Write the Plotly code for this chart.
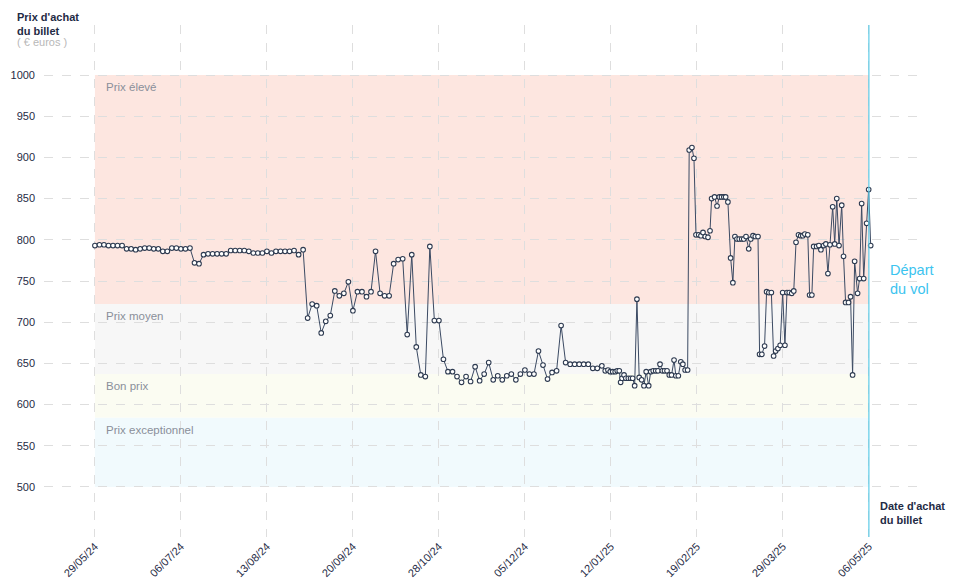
import plotly.graph_objects as go
import pandas as pd

debut = pd.Timestamp("2024-05-29")
depart = pd.Timestamp("2025-05-06")

# jours écoulés depuis le 29/05/24 pour chaque relevé de prix
jours = [
    0, 2, 4, 6, 8, 10, 12, 14, 16, 18, 20, 22, 24, 26, 28, 30, 32, 34, 36, 38,
    40, 42, 44, 46, 48, 50, 52, 54, 56, 58, 60, 62, 64, 66, 68, 70, 72, 74, 76, 78,
    80, 82, 84, 86, 88, 90, 92, 94, 96, 98, 100, 102, 104, 106, 108, 110, 112, 114,
    116, 118, 120, 122, 124, 126, 128, 130, 132, 134, 136, 138, 140, 142, 144, 146,
    148, 150, 152, 154, 156, 158, 160, 162, 164, 166, 168, 170, 172, 174, 176, 178,
    180, 182, 184, 186, 188, 190, 192, 194, 196, 198, 200, 202, 204, 206, 208, 210,
    212, 214, 216, 218, 220, 222, 224,
    225.5, 226.7, 227.7, 228.8, 229.9, 230.8, 231.7, 232.3, 232.9, 233.8,
    234.6, 235.7, 236.7, 237.6, 238.5, 239.5, 240.5, 241.6, 242.6, 243.6,
    244.7, 245.6, 246.7, 247.8, 248.8, 249.7, 250.7, 251.7, 252.8, 253.8,
    254.8, 255.9, 256.7, 257.8, 258.9, 259.8, 260.8, 261.9, 262.6, 263.8,
    264.7, 265.6, 266.8, 267.8, 268.7, 269.7, 270.9, 271.8, 272.5, 273.8,
    274.9, 275.9, 276.9, 277.9, 278.7, 279.7, 280.9, 281.9, 282.8, 283.7,
    284.7, 285.8, 286.7, 287.7, 288.9, 289.8, 290.8, 291.8, 293.0, 293.7,
    294.7, 295.9, 296.8, 297.8, 298.9, 299.9, 300.8, 301.8, 302.8, 303.9,
    304.9, 305.8, 306.8, 307.9, 308.8, 309.8, 310.9, 311.9, 312.8, 313.7,
    315.0, 315.8, 316.8, 317.6, 318.9, 319.9, 320.8, 322.0, 323.0, 323.9,
    324.8, 326.0, 326.9, 327.8, 328.8, 330.0, 330.8, 331.7, 333.0, 333.9,
    334.8, 335.7, 337.0, 337.9, 338.8, 339.7, 341.0, 341.9, 342.8,
]

prix = [
    793, 794, 794, 793, 793, 793, 793, 789, 789, 788, 789, 790, 790, 789, 789, 786,
    786, 790, 790, 789, 789, 790, 772, 771, 782, 783, 783, 783, 783, 783, 787, 787,
    787, 787, 786, 784, 784, 784, 786, 784, 786, 786, 786, 786, 787, 782, 788,
    705, 722, 720, 687, 701, 708, 738, 732, 735, 749, 714, 737, 737, 731, 737, 786,
    735, 732, 732, 771, 776, 777, 685, 782, 670, 636, 634, 792, 702, 702, 655, 640,
    640, 634, 627, 634, 628, 646, 629, 637, 651,
    630, 635, 630, 635, 637, 630, 637, 642, 637, 637, 665, 648, 631, 639, 641, 696,
    651, 649, 649, 649, 649, 649, 644, 644, 647,
    641, 642, 640, 640, 640, 641, 641, 627, 632, 636,
    632, 632, 632, 632, 623, 728, 633, 630, 623, 640,
    623, 640, 641, 641, 641, 649, 641, 641, 641, 636,
    636, 654, 635, 635, 652, 649, 642, 642, 909, 912,
    899, 806, 806, 805, 809, 804, 803, 811, 850, 852,
    841, 852, 852, 852, 852, 846, 778, 748, 804, 801,
    801, 801, 801, 804, 789, 801, 805, 804, 804, 661,
    661, 671, 737, 736, 736, 659, 665, 668, 672, 736,
    672, 736, 736, 735, 738, 797, 806, 805, 805, 807,
    806, 733, 733, 792, 792, 793, 788, 793, 795, 759,
    794, 840, 795, 850, 793, 842, 780, 724, 724, 731,
    636, 774, 735, 753, 844, 753, 820, 861, 793,
]

# zones de prix
zones = ["Prix élevé", "Prix moyen", "Bon prix", "Prix exceptionnel"]
zones_haut = [1000, 722, 637, 584]
zones_bas = [722, 637, 584, 500]
couleurs_zones = ["#fde6e0", "#f7f7f7", "#fbfcf2", "#f1fafd"]

dates_ticks = ["2024-05-29", "2024-07-06", "2024-08-13", "2024-09-20", "2024-10-28",
               "2024-12-05", "2025-01-12", "2025-02-19", "2025-03-29", "2025-05-06"]
prix_ticks = [500, 550, 600, 650, 700, 750, 800, 850, 900, 950, 1000]

dates = debut + pd.to_timedelta(jours, unit="D")

NAVY = "#1f2b45"
fig = go.Figure()

fig.add_trace(go.Scatter(
    x=dates, y=prix, mode="lines+markers",
    line=dict(color="#3b4a63", width=1),
    marker=dict(size=4.6, color="white", line=dict(color="#2d3a50", width=1.1)),
    hoverinfo="x+y", showlegend=False,
))

for nom, haut, bas, coul in zip(zones, zones_haut, zones_bas, couleurs_zones):
    fig.add_shape(type="rect", xref="x", yref="y", x0=debut, x1=depart,
                  y0=bas, y1=haut, fillcolor=coul, line_width=0, layer="below")
    fig.add_annotation(x=debut, y=haut, xref="x", yref="y", text=nom,
                       showarrow=False, xanchor="left", yanchor="top",
                       xshift=9, yshift=-4,
                       font=dict(size=11.5, color="#8a8f9a"))

# ligne du départ
fig.add_shape(type="line", xref="x", yref="paper", x0=depart, x1=depart,
              y0=0, y1=1, line=dict(color="#5ccbe8", width=1.2))

fig.add_annotation(x=-0.033, y=1.031, xref="paper", yref="paper",
                   text="<b>Prix d'achat<br>du billet</b>", showarrow=False,
                   xanchor="left", yanchor="top", align="left",
                   font=dict(size=11, color=NAVY))
fig.add_annotation(x=-0.033, y=0.982, xref="paper", yref="paper",
                   text="( € euros )", showarrow=False,
                   xanchor="left", yanchor="top", align="left",
                   font=dict(size=11, color="#b8b8b8"))
fig.add_annotation(x=0.954, y=0.077, xref="paper", yref="paper",
                   text="<b>Date d'achat<br>du billet</b>", showarrow=False,
                   xanchor="left", yanchor="top", align="left",
                   font=dict(size=11, color=NAVY))
fig.add_annotation(x=0.966, y=0.541, xref="paper", yref="paper",
                   text="Départ<br>du vol", showarrow=False,
                   xanchor="left", yanchor="top", align="left",
                   font=dict(size=14.5, color="#3cc4ef"))

fig.update_xaxes(
    range=[debut - pd.Timedelta(days=22.5), debut + pd.Timedelta(days=363.7)],
    tickvals=dates_ticks, tickformat="%d/%m/%y", tickangle=-45,
    showgrid=True, gridcolor="#dedede", griddash="dash", gridwidth=1,
    zeroline=False, showline=False, ticks="",
    tickfont=dict(size=11, color=NAVY),
)
fig.update_yaxes(
    range=[439.3, 1060.7], tickvals=prix_ticks,
    showgrid=True, gridcolor="#dedede", griddash="dash", gridwidth=1,
    zeroline=False, showline=False, ticks="", ticklabelstandoff=8,
    tickfont=dict(size=11, color=NAVY),
)

fig.update_layout(
    width=958, height=585,
    margin=dict(l=44, r=40, t=25, b=48, autoexpand=False),
    plot_bgcolor="white", paper_bgcolor="white",
    font=dict(family="Arial, Liberation Sans, sans-serif", color=NAVY),
    showlegend=False,
)

# pas de marge autour du graphique dans la page
fig.write_html("out.html", config={"displayModeBar": False},
               post_script="document.body.style.margin='0';")
